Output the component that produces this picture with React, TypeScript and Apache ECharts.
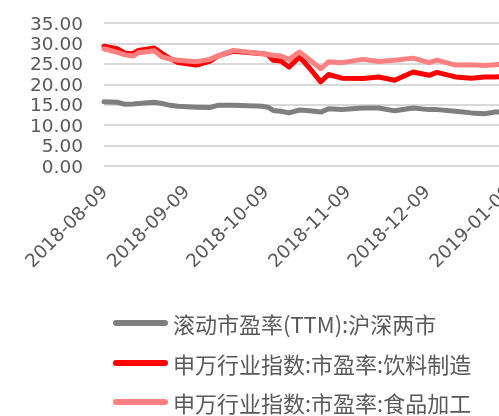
import React, { useEffect, useRef } from "react";
import * as echarts from "echarts";

const dates = [
  "2018-08-09", "2018-08-14", "2018-08-17", "2018-08-20", "2018-08-22", "2018-08-28",
  "2018-08-31", "2018-09-03", "2018-09-06", "2018-09-13", "2018-09-18", "2018-09-21",
  "2018-09-27", "2018-10-08", "2018-10-10", "2018-10-12", "2018-10-15", "2018-10-18",
  "2018-10-22", "2018-10-26", "2018-10-30", "2018-11-02", "2018-11-07", "2018-11-15",
  "2018-11-21", "2018-11-27", "2018-12-04", "2018-12-10", "2018-12-13", "2018-12-20",
  "2018-12-26", "2018-12-31", "2019-01-04", "2019-01-08",
];

const ttmAShare = [
  15.7, 15.6, 15.1, 15.2, 15.3, 15.6, 15.3, 14.85, 14.6, 14.4, 14.3, 14.85,
  14.85, 14.6, 14.4, 13.6, 13.4, 13.0, 13.7, 13.5, 13.2, 14.0, 13.8, 14.2,
  14.2, 13.5, 14.2, 13.8, 13.8, 13.4, 13.0, 12.8, 13.2, 13.3,
];

const beverage = [
  29.3, 28.7, 27.6, 27.5, 28.3, 28.9, 27.5, 26.3, 25.3, 24.7, 25.6, 26.9,
  28.1, 27.5, 27.3, 25.9, 25.7, 24.2, 26.7, 23.8, 20.6, 22.4, 21.5, 21.4,
  21.8, 21.0, 23.0, 22.2, 22.9, 21.8, 21.5, 21.8, 21.8, 22.0,
];

const foodProcessing = [
  28.7, 27.8, 27.2, 26.9, 27.7, 28.2, 26.7, 26.2, 25.9, 25.5, 26.1, 26.9,
  28.3, 27.5, 27.3, 27.1, 26.9, 26.1, 27.9, 25.9, 23.8, 25.5, 25.3, 26.1,
  25.6, 25.9, 26.4, 25.3, 25.9, 24.7, 24.8, 24.6, 24.8, 24.9,
];

const xTickDates = ["2018-08-09", "2018-09-09", "2018-10-09", "2018-11-09", "2018-12-09", "2019-01-09"];
const xStartDate = "2018-08-09";
const xEndDate = "2019-01-10";

const seriesNames = [
  "滚动市盈率(TTM):沪深两市",
  "申万行业指数:市盈率:饮料制造",
  "申万行业指数:市盈率:食品加工",
];
const seriesColors = ["#7f7f7f", "#ff0000", "#ff8080"];
const seriesData = [ttmAShare, beverage, foodProcessing];

const DAY = 86400000;
const dayOf = (s: string) => {
  const [y, m, d] = s.split("-").map(Number);
  return Math.round(Date.UTC(y, m - 1, d) / DAY);
};
const base = dayOf(xStartDate);
const dayToStr = (n: number) => {
  const dt = new Date((n + base) * DAY);
  const p = (k: number) => String(k).padStart(2, "0");
  return `${dt.getUTCFullYear()}-${p(dt.getUTCMonth() + 1)}-${p(dt.getUTCDate())}`;
};

export default function App() {
  const ref = useRef<HTMLDivElement>(null);
  useEffect(() => {
    if (!ref.current) return;
    const chart = echarts.init(ref.current, null, { renderer: "svg" });
    const pill = "path://M3,0H52A3,3,0,0,1,52,6H3A3,3,0,0,1,3,0Z";
    const legendCenters = [323, 363, 402];
    chart.setOption({
      animation: false,
      grid: {
        left: 104,
        top: 23,
        right: -12,
        bottom: 250,
        containLabel: false,
        outerBoundsMode: "none",
      },
      legend: seriesNames.map((n, i) => ({
        data: [n],
        left: 113,
        top: legendCenters[i] - 12,
        orient: "vertical",
        padding: 0,
        icon: pill,
        itemWidth: 55,
        itemHeight: 6,
        textStyle: {
          fontFamily: "Noto Sans CJK SC",
          fontSize: 22,
          color: "#595959",
          lineHeight: 24,
        },
      })),
      xAxis: {
        type: "value",
        min: 0,
        max: dayOf(xEndDate) - base,
        axisLine: { show: false },
        axisTick: { show: false },
        splitLine: { show: false },
        axisLabel: {
          customValues: xTickDates.map((d) => dayOf(d) - base),
          rotate: 45,
          margin: 22,
          fontFamily: "DejaVu Sans",
          fontSize: 18.5,
          color: "#595959",
          formatter: (v: number) => dayToStr(v),
          showMinLabel: true,
          showMaxLabel: true,
          hideOverlap: false,
        },
      },
      yAxis: {
        type: "value",
        min: 0,
        max: 35,
        interval: 5,
        axisLine: { show: false },
        axisTick: { show: false },
        splitLine: { lineStyle: { color: "#d9d9d9", width: 2 } },
        axisLabel: {
          margin: 21,
          fontFamily: "DejaVu Sans",
          fontSize: 18.5,
          color: "#595959",
          formatter: (v: number) => v.toFixed(2),
        },
      },
      series: seriesNames.map((n, i) => ({
        name: n,
        type: "line",
        symbol: "none",
        color: seriesColors[i],
        lineStyle: { width: 5, color: seriesColors[i], cap: "round", join: "round" },
        data: dates.map((d, j) => [dayOf(d) - base, seriesData[i][j]]),
      })),
    });
    return () => chart.dispose();
  }, []);
  return (
    <div
      ref={ref}
      style={{ position: "fixed", left: 0, top: 0, width: 499, height: 416 }}
    />
  );
}
